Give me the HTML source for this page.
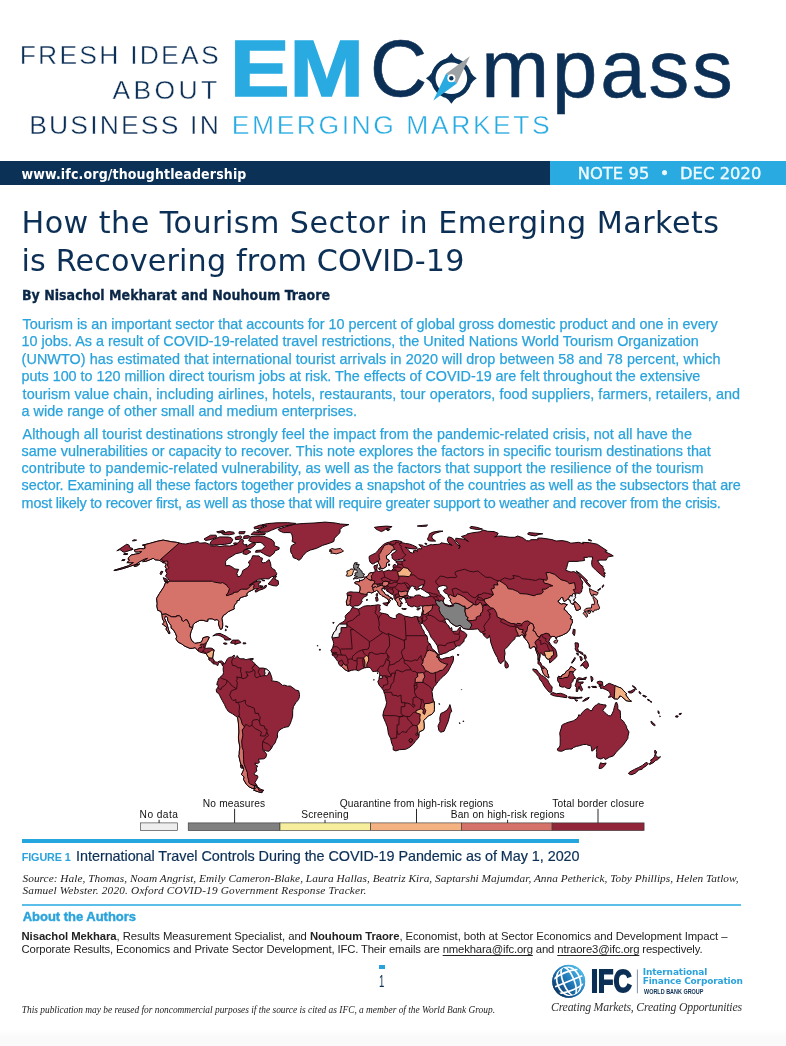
<!DOCTYPE html>
<html lang="en"><head><meta charset="utf-8"><title>EM Compass Note 95</title>
<style>
html,body{margin:0;padding:0;background:#fff;}
body{width:786px;height:1046px;position:relative;overflow:hidden;font-family:"Liberation Sans", Arial, sans-serif;}
.t{position:absolute;white-space:nowrap;margin:0;padding:0;}
.t u{text-decoration-thickness:0.8px;text-underline-offset:1.5px;}
.r{position:absolute;}
svg{position:absolute;overflow:visible;}
</style></head><body>
<div class="r" style="left:0;top:1029px;width:786px;height:17px;background:linear-gradient(#fff,#fafafa 50%,#f9f9f9);"></div>
<div class="r" style="left:0;top:161px;width:550px;height:24px;background:#0b3157;"></div>
<div class="r" style="left:550px;top:161px;width:236px;height:24px;background:#29abe2;"></div>
<div class="r" style="left:22px;top:838.5px;width:557px;height:4.5px;background:#26a6de;"></div>
<div class="r" style="left:22px;top:904.2px;width:719px;height:1.8px;background:#5bbfe9;"></div>
<div class="r" style="left:379.3px;top:964.8px;width:5.5px;height:4px;background:#2aa3dc;"></div>
<svg width="786" height="1046" viewBox="0 0 786 1046" style="left:0;top:0">
<g stroke="#14050a" stroke-width="1" stroke-linejoin="round">
<path d="M352.0,607.7 353.1,607.5 356.9,608.7 358.6,609.1 361.0,607.9 363.7,606.3 367.0,605.7 370.4,605.7 374.6,605.3 378.4,604.7 380.5,605.3 379.7,606.7 379.9,608.3 380.3,609.9 379.0,611.3 380.7,613.0 384.5,613.6 388.0,614.6 389.5,617.0 393.0,618.4 395.6,618.6 396.4,617.4 396.2,615.2 398.7,613.6 401.3,614.2 403.1,615.4 404.9,616.2 408.3,616.8 411.8,617.6 413.5,617.0 415.2,616.4 417.4,616.8 418.0,619.5 418.3,620.5 419.2,622.9 420.3,624.3 420.7,625.1 422.2,628.6 424.1,631.6 424.4,633.6 426.8,635.7 427.5,637.7 427.6,640.5 428.3,642.8 430.1,643.8 432.1,648.7 434.9,650.9 437.7,653.9 439.2,654.9 439.1,657.0 440.6,659.0 442.4,659.0 445.9,657.8 449.5,657.4 452.6,656.2 453.5,656.4 453.5,659.0 452.9,662.0 451.2,665.1 449.8,668.1 448.1,671.2 445.4,674.6 443.3,676.2 441.0,678.3 438.3,681.3 436.5,683.7 435.6,685.0 433.9,686.8 433.2,688.4 431.9,691.5 432.4,694.1 432.7,697.5 433.5,701.0 434.2,701.6 434.4,705.7 434.4,709.7 433.9,711.7 432.0,714.2 428.4,715.8 427.5,716.8 425.6,718.6 423.6,720.5 424.1,723.9 424.2,728.0 423.4,730.0 419.6,731.6 418.8,733.0 419.1,736.1 418.1,738.3 415.4,740.9 413.5,743.8 409.8,747.2 405.7,749.3 401.9,749.5 399.4,749.7 395.9,750.9 393.2,749.9 393.2,746.6 391.7,743.2 390.6,738.3 388.5,734.3 387.4,727.0 385.6,722.5 383.2,716.8 382.9,715.2 383.7,711.1 385.9,705.9 386.6,702.6 385.6,698.1 384.9,694.5 384.0,692.7 383.9,691.5 383.2,690.0 381.7,688.0 379.2,685.2 377.8,681.7 378.9,679.5 379.2,678.1 379.6,675.6 379.8,673.8 379.0,672.4 378.0,671.2 376.9,671.2 374.6,671.4 372.8,671.6 371.7,669.8 370.1,667.5 368.1,667.3 366.3,667.5 364.2,667.9 361.6,669.1 358.2,670.8 356.3,670.0 354.8,669.8 351.2,670.4 348.6,671.4 345.9,670.2 342.7,667.5 341.4,666.3 339.6,665.3 338.4,663.1 338.2,661.6 337.5,661.0 335.7,658.6 334.9,657.6 334.2,656.2 332.2,655.1 332.3,653.1 330.9,650.5 332.7,647.8 333.7,643.6 333.2,641.2 332.1,638.1 332.3,635.9 334.0,632.2 336.0,630.2 336.7,627.2 338.7,624.9 339.6,623.7 342.1,622.5 344.7,620.7 345.5,618.6 345.2,616.4 346.1,614.8 349.1,612.1 350.4,611.3 351.5,608.9Z" fill="#91253a"/>
<path d="M449.9,704.6 451.3,709.7 451.7,711.7 450.2,712.8 449.4,716.8 448.0,721.9 445.8,727.0 444.1,731.2 440.8,732.2 438.9,730.6 438.0,725.9 440.0,721.9 439.8,717.8 440.9,713.4 444.0,712.1 447.0,710.1 448.9,707.3Z" fill="#91253a"/>
<path d="M332.7,622.7 334.1,622.3 333.4,623.5Z" fill="#91253a"/>
<path d="M319.4,649.3 320.4,649.3 320.2,650.3 319.3,650.1Z" fill="#91253a"/>
<path d="M317.2,645.6 317.9,645.6 317.7,646.2Z" fill="#91253a"/>
<path d="M439.1,703.4 439.6,704.4 439.1,704.4Z" fill="#91253a"/>
<path d="M463.0,720.9 463.9,721.3 463.3,721.9Z" fill="#91253a"/>
<path d="M459.4,722.7 460.2,723.1 459.6,723.7Z" fill="#91253a"/>
<path d="M461.3,689.6 461.7,689.8 461.5,690.0Z" fill="#91253a"/>
<path d="M457.0,654.7 459.1,654.7 458.3,655.4Z" fill="#91253a"/>
<path d="M373.7,679.5 374.2,679.7 373.8,680.3Z" fill="#91253a"/>
<path d="M377.2,672.8 378.0,673.0 377.6,673.8Z" fill="#91253a"/>
<path d="M142.5,545.2 150.5,543.2 157.1,541.3 163.2,540.1 167.8,541.0 171.7,541.8 176.2,542.3 179.2,543.0 182.3,543.7 185.8,544.0 189.4,543.2 194.5,542.2 197.9,541.5 199.8,543.2 205.5,542.7 209.1,544.2 210.2,545.7 213.8,546.1 216.8,545.7 219.9,546.6 224.7,545.7 229.7,546.1 234.7,544.9 238.8,542.3 240.4,539.8 242.4,539.0 243.5,540.6 242.9,542.8 243.9,544.9 246.9,544.4 246.5,546.6 251.7,543.2 254.5,542.8 255.6,544.0 254.4,545.7 250.4,548.7 246.6,548.4 242.7,551.9 240.0,552.8 235.9,553.7 232.2,556.1 228.5,558.3 225.6,561.1 225.6,562.6 225.7,565.8 228.9,565.4 231.8,566.7 234.9,569.0 238.7,569.4 236.8,573.4 237.6,575.4 237.7,576.7 240.2,576.3 241.9,573.4 242.8,570.5 247.5,567.7 249.8,564.8 248.4,562.0 251.4,559.2 252.7,555.7 256.1,555.9 258.9,555.9 260.8,557.7 262.6,558.3 261.4,562.0 263.1,562.9 265.6,562.4 269.1,559.6 269.8,561.1 270.7,563.9 271.0,566.7 272.4,568.6 274.9,570.0 275.4,571.5 276.7,573.4 276.5,575.0 274.1,576.3 271.7,576.7 268.6,578.9 265.6,578.7 262.4,578.9 258.4,579.3 255.3,581.2 252.2,583.2 249.1,585.4 252.0,584.0 255.0,582.0 258.6,580.8 260.8,581.2 260.3,582.8 258.4,583.6 259.0,585.2 259.0,586.8 261.1,587.6 263.5,587.8 264.9,585.6 266.6,585.4 266.0,587.4 263.1,589.0 259.5,590.2 255.7,592.2 255.0,590.8 257.4,589.2 258.5,588.4 255.9,588.8 254.3,589.0 251.3,590.6 248.5,591.8 246.6,594.0 247.3,595.6 244.6,596.4 241.8,597.2 239.9,598.0 239.3,600.2 237.0,600.6 236.8,602.4 234.6,604.9 233.9,607.3 234.3,608.9 231.5,610.1 228.6,611.5 225.3,614.2 223.3,615.4 221.9,618.4 222.6,622.5 222.7,625.9 222.1,628.6 220.5,629.4 219.5,627.2 218.5,623.9 218.9,621.3 217.2,619.5 214.8,620.1 212.2,618.8 209.6,618.8 207.8,619.2 207.8,621.3 205.6,621.1 203.2,620.3 199.8,620.3 197.8,621.3 194.8,622.9 193.0,624.9 192.6,627.8 191.0,631.6 190.2,635.3 190.8,638.7 192.3,641.4 194.1,642.6 194.9,643.4 198.5,642.8 201.2,642.2 202.4,640.1 203.0,637.7 207.2,636.7 209.3,637.3 207.6,640.7 206.4,642.8 205.5,645.8 204.6,648.0 206.7,648.3 209.3,648.0 212.0,648.3 214.1,649.9 213.2,653.9 212.6,658.0 213.7,660.0 215.3,662.0 217.5,662.2 219.1,661.2 221.7,661.0 223.5,662.7 222.5,665.7 221.5,663.5 219.8,662.2 218.3,663.7 217.9,665.5 216.6,665.1 215.6,664.1 213.6,663.9 212.3,662.9 210.4,660.6 208.9,660.0 208.8,657.8 206.9,654.9 206.1,653.5 203.5,653.1 200.0,652.1 198.0,650.9 195.2,647.6 192.5,648.3 189.8,648.3 184.9,646.2 181.5,643.8 178.2,642.2 175.9,638.9 176.8,636.7 175.4,633.2 173.3,629.6 171.2,628.2 171.1,625.5 169.5,623.5 167.8,620.5 167.5,617.4 165.4,616.0 164.6,618.4 166.4,622.5 167.8,627.0 168.8,630.6 170.0,633.2 169.0,633.9 168.0,632.0 166.1,629.2 166.6,627.0 163.6,625.1 162.5,623.9 164.4,622.1 162.5,619.0 162.1,615.8 161.9,614.4 160.8,611.3 157.7,610.3 156.9,606.1 157.2,603.6 156.6,598.4 159.4,593.6 163.9,586.8 165.6,582.4 167.7,583.2 169.3,580.7 167.9,578.3 165.5,576.3 167.0,573.4 165.5,570.9 166.4,568.6 165.2,566.7 166.3,563.9 165.0,562.9 162.5,562.6 160.8,560.9 158.4,560.1 155.2,559.8 153.2,558.3 149.1,560.1 145.5,561.4 142.7,561.6 147.6,558.3 144.4,559.2 139.1,562.0 136.0,564.3 130.0,566.3 124.3,568.2 119.2,569.6 113.9,570.5 118.3,569.0 122.7,567.7 128.4,565.8 133.4,562.6 131.0,562.8 126.9,562.6 129.7,560.1 128.0,559.2 128.8,557.4 131.1,555.0 135.7,554.1 139.4,553.4 141.7,551.6 138.5,551.9 135.2,551.9 134.3,550.0 140.3,548.5 143.9,548.9 145.5,547.7 144.2,547.1 145.5,545.7Z" fill="#91253a"/>
<path d="M278.1,529.2 286.2,526.6 293.8,524.3 303.1,523.5 314.1,523.0 325.2,522.1 335.4,523.0 340.4,524.0 348.9,524.6 343.0,526.6 340.1,529.5 340.0,532.6 337.7,534.9 334.5,538.2 333.8,541.5 329.6,543.2 322.5,545.4 316.4,548.4 310.5,550.0 306.5,551.9 303.2,555.5 300.6,559.2 298.9,560.3 296.5,558.8 293.3,557.7 292.4,554.6 290.9,552.5 290.5,549.3 291.4,545.7 295.8,543.2 292.1,541.5 292.6,538.2 292.0,534.9 290.6,532.6 283.4,532.6 279.1,530.7Z" fill="#91253a"/>
<path d="M263.5,536.2 267.3,537.7 272.1,539.8 274.3,542.3 274.2,545.7 279.2,547.5 279.0,549.3 274.7,551.0 274.5,552.8 269.9,556.5 266.8,555.5 263.6,553.7 260.5,551.9 255.5,552.3 256.0,550.5 261.6,550.1 265.1,546.6 262.1,543.2 260.1,542.3 256.0,542.7 252.3,542.3 248.6,540.6 250.9,536.5 257.5,536.0Z" fill="#91253a"/>
<path d="M212.5,539.8 219.7,536.9 228.1,537.0 231.2,537.7 232.8,539.8 230.9,543.2 224.6,544.4 217.8,544.7 212.0,545.2 209.9,544.0 210.8,542.0Z" fill="#91253a"/>
<path d="M204.0,539.0 210.6,535.2 216.1,535.2 216.6,537.3 210.0,539.8 205.4,540.5Z" fill="#91253a"/>
<path d="M256.5,531.0 261.6,531.8 267.2,532.1 271.3,530.3 276.9,528.0 284.6,526.0 292.4,524.6 295.7,523.4 287.8,522.7 277.1,522.8 267.5,523.6 261.6,524.9 266.9,526.0 262.2,528.0Z" fill="#91253a"/>
<path d="M254.0,527.3 260.3,525.0 264.3,526.2 259.6,528.3 254.5,528.8Z" fill="#91253a"/>
<path d="M253.9,531.8 259.6,532.6 265.3,532.9 265.0,534.4 258.5,534.9 250.9,534.6Z" fill="#91253a"/>
<path d="M221.6,533.3 228.7,531.6 233.8,532.2 234.3,533.8 229.5,534.8 223.6,534.6Z" fill="#91253a"/>
<path d="M239.1,531.8 245.2,531.6 244.1,533.7 239.1,533.8Z" fill="#91253a"/>
<path d="M235.2,537.3 240.5,535.9 242.1,537.3 239.6,539.3 235.5,539.6Z" fill="#91253a"/>
<path d="M244.0,536.0 248.1,535.6 250.3,536.5 248.2,538.2 243.5,538.5Z" fill="#91253a"/>
<path d="M233.5,543.2 236.4,542.8 237.3,544.0 234.7,544.9Z" fill="#91253a"/>
<path d="M244.0,550.1 247.3,549.3 250.9,551.9 246.4,554.6 242.9,553.7Z" fill="#91253a"/>
<path d="M216.7,531.8 223.2,530.6 225.0,531.8 218.7,532.9Z" fill="#91253a"/>
<path d="M268.1,584.0 271.3,580.3 274.4,576.5 276.5,576.1 274.7,579.3 278.2,580.7 278.5,584.2 276.8,586.0 272.9,585.6Z" fill="#91253a"/>
<path d="M163.2,577.7 167.2,579.3 167.5,582.4 164.8,581.6Z" fill="#91253a"/>
<path d="M161.1,571.3 162.9,571.5 161.0,574.8 160.1,573.8Z" fill="#91253a"/>
<path d="M134.9,565.2 139.6,563.9 137.3,565.8 134.3,566.5Z" fill="#d5736b"/>
<path d="M124.4,553.5 127.7,553.9 126.0,554.6 123.7,554.3Z" fill="#d5736b"/>
<path d="M122.6,559.8 125.1,559.6 123.8,560.5 121.8,560.5Z" fill="#d5736b"/>
<path d="M261.4,579.5 264.9,580.7 262.5,580.8Z" fill="#91253a"/>
<path d="M259.8,585.6 263.2,586.2 261.2,587.2Z" fill="#91253a"/>
<path d="M212.8,635.9 216.0,633.9 220.0,633.4 223.3,634.9 226.6,636.5 229.0,638.3 231.2,639.3 229.7,639.9 225.0,640.0 223.8,637.7 220.5,636.1 218.0,635.1 215.3,635.3Z" fill="#91253a"/>
<path d="M230.5,643.0 232.5,640.1 235.5,640.1 238.5,640.1 241.1,642.6 238.2,643.4 235.1,644.4 233.8,643.4Z" fill="#91253a"/>
<path d="M223.6,643.0 226.0,643.0 227.2,643.8 225.3,644.4 223.5,643.6Z" fill="#91253a"/>
<path d="M243.2,642.8 246.0,643.0 245.6,643.8 243.1,643.8Z" fill="#91253a"/>
<path d="M225.3,626.1 226.7,625.9 226.4,626.8Z" fill="#91253a"/>
<path d="M225.5,629.2 226.3,629.6 225.9,631.0 225.3,630.6Z" fill="#91253a"/>
<path d="M227.1,626.3 227.9,626.8 227.4,627.8Z" fill="#91253a"/>
<path d="M251.5,658.6 253.2,658.4 253.0,659.8 251.4,659.8Z" fill="#91253a"/>
<path d="M223.5,662.7 224.5,664.1 226.1,661.2 227.1,659.2 228.4,658.0 229.6,657.4 231.7,657.0 234.2,655.1 234.8,656.4 233.7,657.6 234.2,658.2 235.2,658.0 236.7,657.2 237.2,655.6 238.0,657.0 240.0,658.8 244.1,658.8 245.9,659.8 247.7,659.2 251.3,658.6 250.1,659.8 251.5,660.4 253.3,662.0 254.6,663.5 257.2,666.1 259.5,668.1 263.4,668.1 266.1,668.9 267.9,670.2 269.6,671.6 271.4,676.2 272.2,679.3 271.3,680.7 274.9,681.3 277.6,681.7 280.3,683.3 282.5,685.4 284.8,685.2 287.5,686.2 290.2,686.0 292.9,687.8 295.7,690.0 298.7,690.8 299.5,694.5 299.5,696.5 298.5,699.6 295.9,702.6 293.4,706.7 292.7,710.7 292.6,716.4 291.4,720.5 290.1,723.9 288.5,726.7 286.2,727.0 283.8,727.6 281.0,729.0 278.2,731.4 277.4,734.1 277.6,737.1 276.4,739.1 275.2,742.8 272.9,745.6 271.2,748.7 269.1,751.2 266.8,751.1 263.8,750.1 262.8,749.3 263.0,750.5 265.4,752.3 266.6,754.3 265.9,757.4 263.8,758.8 258.5,759.2 259.4,762.4 257.5,763.6 254.9,763.0 255.5,765.0 258.0,766.4 256.2,767.4 256.8,771.0 254.1,773.4 254.5,774.8 257.6,775.8 257.9,777.2 256.3,780.3 254.9,782.3 257.1,785.8 255.6,786.0 254.0,786.8 254.5,788.7 252.1,788.3 249.1,786.8 246.4,784.3 243.5,779.4 244.2,777.0 241.5,774.6 242.9,771.4 243.8,769.4 242.5,765.4 241.0,764.8 240.1,761.4 238.8,755.7 239.2,754.9 239.3,751.3 239.9,747.2 238.8,741.1 238.4,737.1 239.0,732.0 238.7,728.2 238.4,722.9 237.7,717.6 235.6,716.0 232.5,713.8 228.4,711.5 226.2,708.3 224.5,704.6 222.3,700.6 219.7,695.5 218.7,693.5 216.7,692.3 216.2,689.8 217.9,687.2 218.6,685.4 216.8,684.8 217.3,682.3 218.2,680.3 218.4,678.7 220.4,677.5 220.6,676.6 222.9,675.0 223.5,672.4 223.1,669.1 223.4,666.7 222.5,665.7Z" fill="#91253a"/>
<path d="M257.0,786.4 258.1,787.2 260.8,789.3 264.0,790.4 262.4,791.2 261.9,792.7 258.2,791.8 253.6,790.1 254.7,789.1 255.8,788.1Z" fill="#91253a"/>
<path d="M240.6,765.0 241.8,765.4 242.5,768.2 241.0,767.8Z" fill="#d5736b"/>
<path d="M351.4,606.3 349.6,604.9 346.9,605.3 346.3,601.8 347.3,599.2 347.7,596.8 346.9,593.2 348.5,592.2 350.7,591.8 353.9,592.2 355.8,592.2 359.1,592.4 360.1,590.2 360.2,588.0 360.1,586.8 358.7,585.0 357.6,584.2 355.2,583.6 354.6,582.6 356.5,581.6 359.5,582.0 359.5,579.9 360.3,580.5 362.2,580.3 364.3,579.1 364.8,577.5 366.9,576.7 368.1,575.4 369.2,573.4 371.1,572.7 372.6,572.7 374.1,572.1 375.3,571.7 374.9,569.6 374.0,567.7 374.1,565.8 376.0,565.4 377.5,564.4 377.2,566.5 376.9,568.6 376.7,570.0 377.2,570.7 378.5,571.5 380.1,571.1 382.3,570.5 383.5,571.7 386.1,570.9 389.0,570.0 390.2,570.7 391.8,570.7 392.0,569.8 393.4,569.0 393.4,568.2 393.0,566.1 393.7,564.8 395.1,564.4 396.6,565.8 397.4,565.8 397.7,564.3 397.7,563.1 396.1,562.6 395.8,561.6 397.7,561.1 399.4,560.9 402.3,561.1 405.3,560.3 403.5,559.8 402.6,559.0 400.5,559.2 397.8,559.8 395.0,560.5 393.4,559.4 392.2,558.3 392.1,556.5 391.6,554.4 393.7,552.8 396.6,551.0 395.3,549.6 394.6,549.6 392.1,550.0 391.4,551.7 390.0,553.2 387.8,555.0 386.4,555.7 386.5,558.8 388.6,559.8 389.3,561.4 386.7,562.8 386.4,564.8 386.3,566.5 385.1,567.3 383.3,568.6 381.4,568.8 380.7,567.3 379.4,564.4 378.2,562.2 377.4,560.9 377.2,561.6 375.8,562.4 373.7,563.7 372.2,563.9 370.1,562.2 369.3,559.4 369.1,557.4 369.4,556.1 370.7,555.5 372.8,554.4 375.1,553.4 376.8,551.9 378.3,550.1 379.4,548.4 381.2,547.0 382.4,545.4 383.6,544.4 386.6,542.8 389.7,542.0 392.1,541.1 394.8,540.5 397.7,540.6 401.8,541.7 400.8,542.7 402.1,542.7 405.6,543.5 408.9,543.9 412.7,545.2 416.6,547.0 417.3,548.4 415.9,549.1 413.2,548.9 409.0,548.4 405.3,547.3 407.1,548.7 409.5,551.0 409.8,552.3 412.4,553.0 414.2,552.3 413.1,551.0 416.1,550.3 417.5,551.7 416.9,550.1 419.1,548.5 421.3,549.1 421.4,547.5 419.8,545.7 418.8,544.7 422.5,545.2 423.6,546.3 425.7,546.4 427.9,545.6 431.3,544.4 432.9,544.9 434.0,544.5 437.9,544.4 440.3,544.0 441.0,542.8 445.2,543.5 448.1,544.0 452.2,545.4 448.9,543.2 447.4,540.6 447.7,538.2 448.6,536.9 451.7,537.7 454.2,539.8 456.6,544.0 460.0,546.6 458.8,548.7 460.2,546.6 458.6,544.0 455.7,540.6 455.8,538.2 459.9,538.7 462.7,539.0 465.0,539.5 468.4,541.5 466.3,539.5 461.4,536.5 466.7,534.9 467.0,534.0 471.9,532.9 477.1,532.2 480.1,531.8 482.9,530.0 487.8,531.3 494.1,531.6 498.2,533.3 496.9,535.7 494.6,537.0 497.4,536.2 500.9,536.0 503.8,536.4 509.9,537.3 514.9,537.3 517.5,536.0 522.7,537.7 526.4,540.6 529.4,541.0 530.5,539.8 534.1,539.6 538.1,539.8 537.7,538.2 540.6,538.0 545.1,538.5 551.8,539.6 556.2,541.0 562.1,540.6 567.2,541.5 570.9,543.2 574.3,542.8 578.7,542.3 583.6,543.9 582.6,542.3 589.6,542.7 597.2,544.2 607.2,550.8 604.9,551.6 611.2,554.6 613.3,555.9 608.6,556.8 606.7,558.7 606.2,560.1 600.0,560.1 597.6,560.5 599.0,562.9 599.8,564.3 603.2,566.7 602.8,567.7 604.1,569.6 603.8,571.5 605.5,573.4 603.8,573.4 604.9,575.4 604.4,577.3 600.6,574.4 596.2,570.5 592.4,566.7 591.7,564.3 591.8,561.1 592.4,559.2 592.6,557.0 588.1,556.8 587.4,557.4 583.9,557.4 584.6,560.5 579.5,561.1 577.0,561.4 572.0,561.4 568.4,561.4 567.4,564.8 566.8,567.3 565.6,570.2 569.1,571.5 571.1,572.1 573.6,571.5 576.9,573.0 577.7,574.4 579.8,576.3 580.9,579.3 582.8,582.2 582.1,585.2 582.7,587.2 581.9,589.6 581.5,592.0 579.6,593.6 576.8,593.0 575.7,594.0 575.6,594.6 575.1,596.6 575.7,597.6 574.4,598.8 573.5,600.2 573.8,600.8 575.7,602.0 579.0,605.3 580.3,607.3 580.4,609.1 578.1,610.1 576.4,610.5 575.5,608.3 574.6,605.7 574.0,604.2 571.6,603.8 570.3,602.2 570.2,600.2 567.9,599.4 567.7,599.2 564.9,601.2 564.2,601.6 563.2,599.6 563.1,597.8 561.3,597.4 559.9,599.6 557.8,601.0 559.0,602.8 561.3,604.2 563.8,603.6 567.3,604.7 565.0,607.1 563.9,609.3 566.3,610.9 568.0,613.4 570.6,615.6 571.2,617.4 570.0,618.8 572.3,619.5 572.2,620.5 572.5,622.9 571.5,623.7 570.5,626.5 570.4,627.6 569.4,630.0 568.6,630.8 566.7,633.0 563.8,634.3 562.6,635.1 560.9,635.7 558.4,636.5 556.4,637.3 556.4,639.1 555.1,636.7 552.8,636.3 551.9,636.7 550.1,638.3 548.8,641.4 550.5,644.2 552.6,646.8 554.2,647.8 555.7,649.9 556.6,652.9 557.0,656.0 556.2,657.4 554.0,659.2 552.4,661.0 549.7,662.9 549.3,660.0 548.5,659.2 547.0,658.8 545.8,657.0 544.8,655.8 542.0,654.5 541.7,653.1 541.0,652.9 540.1,653.3 540.2,656.0 539.7,658.4 539.4,661.4 540.9,663.1 541.8,665.7 543.8,666.5 545.1,667.7 547.4,670.6 547.5,673.2 548.4,675.2 549.0,677.5 548.3,677.7 547.6,677.3 545.4,675.8 543.7,674.2 542.8,672.2 541.8,669.1 541.7,668.1 540.6,666.5 539.6,664.7 537.9,663.7 538.1,661.0 538.1,659.0 538.1,656.0 536.9,652.9 535.8,649.9 535.1,646.8 532.8,646.6 531.2,648.3 529.4,647.8 529.3,644.8 527.7,641.8 525.9,639.3 524.5,638.1 523.8,636.9 523.2,635.1 521.2,634.7 520.2,635.9 518.4,636.1 516.7,636.3 515.1,637.1 514.9,638.7 513.7,640.1 512.1,641.2 509.5,644.4 507.9,646.6 505.8,648.3 504.5,649.9 505.1,653.7 504.4,657.0 504.7,659.4 503.3,661.4 501.9,662.2 500.7,663.9 499.0,662.2 498.2,660.0 497.3,657.4 495.3,654.1 493.1,649.1 491.9,645.8 490.6,641.8 490.3,638.7 489.7,636.7 489.4,635.3 488.7,637.7 486.9,638.3 483.6,635.3 483.1,634.7 485.3,633.9 483.0,633.6 481.5,632.4 480.0,631.8 478.9,630.0 478.1,628.8 474.6,629.2 470.3,629.4 469.6,629.4 466.7,629.0 463.2,628.4 461.2,626.1 460.0,625.3 457.7,626.1 456.0,626.3 453.1,624.5 450.3,622.5 449.8,621.5 448.5,619.5 446.4,618.8 445.6,619.5 444.9,620.5 445.8,622.5 447.1,624.5 449.0,626.1 449.6,628.6 450.6,628.6 451.4,627.4 452.1,629.6 451.7,630.6 453.0,631.4 456.5,631.2 457.3,630.6 458.5,629.0 459.7,627.4 460.2,626.8 460.5,629.6 461.0,630.6 464.7,632.4 467.0,634.7 465.9,637.7 464.2,638.9 463.9,641.8 462.7,642.2 461.6,644.0 459.5,645.8 457.7,645.8 454.6,647.8 454.3,648.7 449.1,650.9 446.6,652.7 442.2,653.9 442.2,654.3 439.5,654.5 439.1,653.3 438.5,650.9 438.3,650.3 437.7,647.0 437.3,645.8 435.4,642.8 433.4,640.1 431.0,637.1 429.5,633.6 428.5,631.4 427.0,629.6 425.6,627.2 423.6,624.5 422.3,623.3 422.4,620.5 421.8,623.1 421.3,624.1 420.0,622.5 418.4,620.1 418.0,619.5 417.4,616.8 419.5,617.2 420.7,616.8 421.6,615.2 421.7,613.8 422.3,611.5 422.7,610.3 422.5,608.3 422.7,607.3 422.9,606.1 421.7,606.1 420.1,605.7 418.8,606.9 417.3,607.3 413.5,605.5 413.2,606.7 411.2,606.7 409.6,605.9 408.0,605.3 407.4,603.2 406.7,602.4 405.7,602.6 406.5,600.6 405.3,600.2 405.3,599.2 406.6,598.4 408.2,598.4 409.9,598.2 411.3,597.8 409.7,597.2 409.8,596.8 413.5,597.0 415.0,595.8 416.5,595.2 419.3,595.0 421.0,595.8 421.8,596.6 423.7,597.0 425.4,597.4 427.3,597.2 430.1,596.2 430.1,595.0 428.7,593.2 426.4,592.2 424.2,590.6 422.9,589.8 421.0,588.8 422.1,588.0 422.7,587.0 423.0,585.8 424.3,585.0 422.4,585.0 421.6,585.0 420.1,585.8 418.3,586.6 418.1,587.8 419.0,588.6 420.6,588.4 419.0,589.2 417.6,589.8 416.1,590.2 416.0,589.0 414.2,588.4 415.7,587.0 413.9,587.0 412.7,586.0 410.9,586.2 409.7,588.6 408.4,590.8 407.5,592.8 406.9,594.2 407.8,595.2 408.8,596.2 409.7,597.0 408.1,597.2 407.0,597.8 406.1,598.4 405.3,599.0 404.9,598.0 404.8,597.6 402.2,597.4 401.7,598.8 400.9,599.2 399.8,598.0 399.4,599.2 400.2,600.8 400.8,601.8 402.1,602.8 402.1,603.8 401.4,603.4 400.4,603.4 400.9,604.7 400.7,606.3 399.9,606.5 398.4,605.7 397.6,604.0 397.9,602.6 397.0,602.4 396.4,601.2 395.5,600.2 394.9,599.4 394.0,598.4 393.9,596.6 393.8,595.4 392.9,594.6 391.5,594.0 388.6,592.2 386.6,591.0 386.0,589.2 385.1,588.6 384.4,589.6 383.8,588.2 384.1,587.8 381.9,588.4 381.8,590.2 382.4,591.0 383.9,592.0 384.8,593.8 386.2,595.0 388.5,595.4 388.3,596.2 389.8,597.0 391.7,598.0 392.6,599.0 392.5,599.6 391.6,598.8 390.4,598.2 389.5,599.4 390.4,601.0 389.5,601.6 388.9,603.2 388.2,603.4 388.5,602.2 388.7,600.8 387.8,599.0 386.4,598.0 385.4,597.6 384.4,596.8 383.2,596.4 382.0,595.6 381.0,594.6 380.0,594.4 379.1,593.2 378.7,592.2 377.9,591.0 376.4,590.4 375.3,591.2 374.2,591.6 373.8,591.8 371.8,593.0 370.6,592.6 368.8,592.2 367.7,592.6 366.9,593.2 367.1,594.4 367.2,595.4 365.6,596.4 363.6,597.2 363.3,597.8 362.0,599.4 361.5,600.2 362.3,601.8 361.2,602.6 360.7,604.0 358.8,605.3 358.0,605.7 354.6,605.9 353.1,607.1ZM437.4,589.8 438.7,590.6 439.3,593.2 441.4,595.2 443.1,596.8 444.9,598.4 443.8,598.8 443.4,601.6 444.0,604.0 446.3,604.7 449.3,605.7 452.6,605.3 451.9,603.2 450.0,600.8 450.8,599.2 449.3,597.6 448.5,596.2 447.7,594.2 444.9,592.8 443.3,590.6 444.3,590.2 444.5,589.2 447.2,588.8 446.5,586.2 443.1,585.4 440.1,586.2 437.3,587.8Z" fill="#91253a"/>
<path d="M126.8,544.2 129.1,545.2 129.7,547.5 132.5,548.4 133.0,549.3 126.9,551.4 124.3,552.3 122.1,551.4 121.2,550.1 119.7,549.8 116.8,550.8Z" fill="#91253a"/>
<path d="M353.1,579.1 355.5,578.5 356.6,578.7 358.9,577.9 362.0,577.7 364.2,576.9 363.5,575.8 364.6,574.2 362.5,573.4 362.2,572.3 361.7,570.9 360.0,569.8 359.3,568.2 358.6,567.7 357.2,567.7 358.3,566.7 359.1,564.8 359.2,564.4 356.9,564.4 356.0,564.6 357.4,562.8 354.7,562.8 354.1,564.3 353.5,565.4 353.6,566.7 353.8,568.6 354.8,568.6 354.5,570.0 356.7,569.8 357.2,571.5 357.4,572.7 355.3,572.8 355.1,573.8 355.7,574.6 354.0,575.6 355.5,576.1 357.4,576.5 356.9,576.9 355.0,577.3Z" fill="#808080"/>
<path d="M346.6,576.1 349.7,576.1 352.3,575.0 352.9,572.8 353.7,570.5 353.0,569.2 350.9,569.0 349.2,570.5 346.9,571.1 347.1,572.8 347.5,574.2 346.0,575.2Z" fill="#f4b283"/>
<path d="M329.4,550.1 331.8,548.5 335.0,549.3 340.5,548.4 342.3,550.1 343.5,551.0 341.4,552.3 336.3,553.9 333.0,553.2 330.7,553.2 331.9,551.4 329.2,551.2 331.4,550.5Z" fill="#d5736b"/>
<path d="M374.4,527.3 379.8,526.6 386.4,526.1 392.1,526.6 389.2,528.0 386.0,528.8 384.1,530.3 381.5,531.6 378.3,530.3 375.7,528.8Z" fill="#91253a"/>
<path d="M386.1,529.1 390.1,529.1 388.8,530.6 387.0,530.3Z" fill="#91253a"/>
<path d="M428.3,540.6 431.1,541.1 435.6,541.1 432.0,538.2 431.9,535.7 435.2,533.3 440.0,531.8 443.0,531.2 439.4,531.0 433.1,532.1 429.5,533.8 428.7,536.5 427.5,539.0Z" fill="#91253a"/>
<path d="M417.3,526.0 422.4,525.4 427.6,525.0 426.4,526.2 420.9,526.4Z" fill="#91253a"/>
<path d="M469.8,528.0 470.9,526.4 476.7,527.3 482.5,529.1 477.3,529.5 472.9,528.8Z" fill="#91253a"/>
<path d="M527.6,534.1 528.7,532.6 535.7,533.2 542.8,533.8 539.0,534.4 535.1,535.9 530.5,535.2Z" fill="#91253a"/>
<path d="M588.1,539.8 590.0,539.8 591.7,540.8 590.2,540.8Z" fill="#91253a"/>
<path d="M134.0,539.8 136.6,540.1 134.8,540.8 132.3,540.8Z" fill="#91253a"/>
<path d="M424.9,543.2 426.8,543.5 426.6,544.5 425.0,544.0Z" fill="#91253a"/>
<path d="M576.1,570.9 579.9,573.4 582.9,576.3 587.6,580.8 586.3,581.2 590.4,585.6 589.9,587.2 587.0,584.2 583.3,579.3 579.7,575.4Z" fill="#91253a"/>
<path d="M591.8,596.2 590.1,592.8 589.4,588.4 593.0,590.6 598.1,592.6 598.0,593.2 596.6,595.2 593.0,594.2 593.2,595.8Z" fill="#d5736b"/>
<path d="M593.6,596.4 597.5,600.2 597.6,603.2 599.1,606.3 599.6,607.9 598.9,609.3 597.2,609.3 596.8,610.1 594.2,610.1 594.2,610.7 593.2,612.3 590.8,610.1 587.7,610.7 586.3,611.3 584.6,611.3 584.2,610.5 585.9,608.5 588.2,608.1 591.5,607.9 591.6,605.3 591.9,604.2 594.1,604.7 594.5,602.2 593.6,599.2 592.9,598.0Z" fill="#d5736b"/>
<path d="M584.5,611.5 587.0,613.4 587.5,616.4 586.5,617.4 584.9,615.4 583.2,613.4Z" fill="#d5736b"/>
<path d="M587.3,611.7 590.4,610.9 590.7,612.6 589.0,613.8Z" fill="#d5736b"/>
<path d="M573.3,629.2 575.1,629.6 574.9,633.6 574.3,635.7 572.7,633.6Z" fill="#91253a"/>
<path d="M553.9,641.2 556.8,639.7 557.9,640.5 556.5,643.2 554.2,642.8Z" fill="#d5736b"/>
<path d="M505.0,660.4 507.3,663.1 508.5,665.5 508.0,667.5 505.9,668.1 504.9,666.1 505.0,663.1Z" fill="#91253a"/>
<path d="M575.0,642.8 578.1,643.0 578.6,645.8 577.7,648.3 578.5,651.3 580.9,651.9 582.8,652.9 583.0,654.7 581.1,653.7 579.2,652.3 576.6,651.5 575.1,648.9 575.4,647.4 575.2,644.8Z" fill="#91253a"/>
<path d="M576.4,653.1 578.2,653.3 578.3,655.4 577.4,654.9Z" fill="#91253a"/>
<path d="M583.6,654.9 585.4,654.9 586.4,657.6 585.3,659.6 584.3,658.6 584.7,657.0Z" fill="#91253a"/>
<path d="M579.7,656.4 581.7,657.0 582.3,660.0 581.0,661.0 580.4,658.6Z" fill="#91253a"/>
<path d="M571.9,663.3 573.9,661.0 575.4,658.4 574.9,657.4 573.2,660.0 571.5,662.7Z" fill="#91253a"/>
<path d="M580.5,666.1 582.9,662.9 586.1,660.4 588.0,663.1 588.5,666.1 586.9,668.1 586.6,668.9 584.1,667.1 583.1,664.9Z" fill="#91253a"/>
<path d="M557.6,677.3 558.7,676.2 561.2,677.1 561.9,675.2 564.7,673.8 566.4,671.2 569.0,669.5 571.0,666.3 572.7,667.5 575.7,669.5 573.6,671.6 572.8,673.2 573.8,675.8 575.6,678.3 573.5,678.7 572.9,681.3 571.1,683.3 571.0,686.4 570.0,688.4 567.5,688.6 564.7,686.8 562.4,687.2 559.7,686.2 559.4,683.3 557.7,680.9Z" fill="#91253a"/>
<path d="M532.8,668.9 536.8,669.8 538.7,672.6 541.4,675.2 543.3,676.2 546.0,678.3 547.8,680.3 548.7,682.3 550.1,684.8 552.2,686.8 551.6,692.1 549.4,692.3 546.7,689.4 544.1,686.0 542.2,682.3 539.7,679.3 538.8,676.6 536.4,673.8 533.2,670.6Z" fill="#91253a"/>
<path d="M550.4,694.1 552.8,692.5 556.4,693.7 560.5,693.3 563.8,694.3 567.0,695.9 566.7,697.7 562.4,697.1 558.9,696.5 555.3,696.1 552.5,695.3Z" fill="#91253a"/>
<path d="M568.7,696.7 571.4,697.1 574.9,697.3 578.5,697.5 582.1,697.1 582.0,697.9 576.6,698.4 571.3,698.6 568.6,697.9Z" fill="#91253a"/>
<path d="M582.6,701.2 585.6,698.6 589.2,697.3 588.2,699.0 584.4,701.0Z" fill="#91253a"/>
<path d="M574.7,699.6 577.9,700.4 576.4,701.2Z" fill="#91253a"/>
<path d="M577.1,678.7 578.8,677.7 582.8,678.5 586.4,677.1 585.5,679.5 581.0,679.5 578.3,679.7 577.8,682.1 580.1,682.1 583.3,681.9 582.8,683.3 580.1,684.0 581.4,687.0 582.6,689.4 581.6,691.1 579.9,689.6 579.1,686.4 577.9,690.0 577.6,691.5 576.2,691.5 576.4,687.4 575.2,685.8 576.1,682.9Z" fill="#91253a"/>
<path d="M590.8,676.2 592.6,677.3 593.0,679.7 591.6,681.9 591.1,678.7Z" fill="#91253a"/>
<path d="M591.6,686.4 596.1,686.4 596.6,687.6 592.5,687.4Z" fill="#91253a"/>
<path d="M588.2,686.8 590.0,686.8 589.8,688.0 588.4,687.8Z" fill="#91253a"/>
<path d="M597.2,681.9 599.9,681.1 602.5,681.9 602.8,685.4 604.2,687.0 606.1,685.0 609.3,683.3 614.5,685.4 618.5,687.2 621.2,688.0 623.4,690.4 625.4,692.5 626.7,693.9 625.6,694.5 626.9,696.5 628.5,698.6 630.1,700.6 631.4,701.2 629.1,701.2 626.1,700.6 624.0,698.6 621.5,696.5 619.8,695.9 618.7,698.1 617.7,699.0 614.2,698.8 611.7,696.7 608.9,697.3 608.2,697.3 610.5,695.1 610.1,693.5 609.3,691.5 605.9,689.6 602.3,688.2 600.5,688.4 600.3,686.4 598.8,686.0 601.6,685.0 598.9,684.4 597.1,682.9Z" fill="#91253a"/>
<path d="M628.2,691.5 630.9,691.1 633.7,689.4 635.1,689.0 634.5,691.1 631.7,692.9 629.0,692.9Z" fill="#91253a"/>
<path d="M632.6,685.6 635.6,687.6 636.3,689.8 635.2,688.4 632.4,686.2Z" fill="#91253a"/>
<path d="M639.3,691.3 641.1,693.5 640.2,694.1 639.0,692.3Z" fill="#91253a"/>
<path d="M643.1,695.1 646.6,696.5 645.8,697.3 642.7,695.9Z" fill="#91253a"/>
<path d="M647.7,699.2 649.8,700.2 649.3,701.0 647.5,700.0Z" fill="#91253a"/>
<path d="M650.2,701.0 651.9,702.0 650.9,702.4Z" fill="#91253a"/>
<path d="M658.1,710.7 659.1,711.9 659.1,713.8 658.0,712.8Z" fill="#91253a"/>
<path d="M659.8,715.8 660.4,716.4 659.8,716.8Z" fill="#91253a"/>
<path d="M651.1,721.1 653.3,722.9 655.3,725.3 654.4,725.7 652.1,724.1 650.9,721.9Z" fill="#91253a"/>
<path d="M675.9,715.8 678.2,716.0 677.7,717.2 675.6,717.0Z" fill="#91253a"/>
<path d="M679.1,713.8 681.4,713.2 680.9,714.4 679.3,714.6Z" fill="#91253a"/>
<path d="M616.5,702.0 617.8,705.7 617.8,709.3 620.2,710.7 620.5,715.8 620.5,718.4 621.2,719.4 623.7,721.5 624.7,723.5 626.6,726.5 626.6,728.0 629.0,732.0 628.0,736.1 627.9,738.3 625.3,742.2 622.9,745.6 619.2,749.1 616.2,752.3 613.4,755.9 609.4,757.2 605.3,759.6 604.1,757.4 600.8,759.0 598.1,758.2 596.7,757.4 596.6,754.9 596.7,752.5 596.4,751.3 596.5,749.3 597.4,746.4 595.1,748.7 592.4,750.9 591.8,751.1 591.6,748.9 591.1,746.8 590.7,745.6 588.0,745.2 586.6,744.4 583.1,744.6 579.2,745.8 576.4,746.4 573.3,747.6 571.9,749.1 569.4,749.1 565.9,749.3 561.7,751.3 558.5,750.9 557.3,750.1 557.8,748.3 559.1,747.8 560.1,745.2 560.2,742.2 560.2,738.7 560.1,736.1 559.7,733.4 560.3,731.0 561.6,727.0 561.6,725.9 562.7,724.5 565.2,723.5 568.1,722.3 571.0,721.5 573.6,720.7 576.6,718.8 578.2,716.8 578.7,714.8 580.8,715.4 581.5,713.2 583.1,711.7 585.2,709.7 587.1,708.7 588.8,709.1 589.9,710.7 592.2,710.5 592.6,708.7 595.2,705.5 596.5,705.0 598.5,703.4 600.2,704.2 603.7,704.8 606.0,705.0 605.7,707.1 604.1,708.3 602.9,710.5 604.8,712.6 606.7,714.2 608.5,715.6 610.7,716.0 612.1,713.8 613.5,710.7 614.2,707.7 614.8,705.7 615.5,703.0Z" fill="#91253a"/>
<path d="M600.5,762.8 603.0,763.6 606.2,763.0 604.8,765.4 602.5,767.8 600.2,768.6 599.0,768.4 599.4,765.8Z" fill="#91253a"/>
<path d="M655.0,750.1 656.6,751.9 655.6,754.9 656.5,756.4 658.0,757.4 660.6,756.8 657.4,759.8 655.6,760.4 653.8,762.4 649.6,764.6 649.3,764.0 651.2,761.8 650.6,760.0 652.9,758.6 654.5,756.4 655.2,753.9 654.5,751.7Z" fill="#91253a"/>
<path d="M647.0,762.4 648.4,763.8 646.8,765.4 642.5,768.4 642.2,769.2 638.8,770.0 635.3,773.2 632.1,774.6 630.2,774.6 628.3,773.4 630.0,771.8 634.4,769.4 638.7,767.4 642.4,765.4 645.4,763.0Z" fill="#91253a"/>
<path d="M382.9,603.2 388.0,602.6 387.5,605.3 387.2,605.9 383.8,604.4Z" fill="#91253a"/>
<path d="M375.5,597.4 377.3,596.8 378.0,599.2 377.8,601.0 376.1,601.2 375.9,599.2Z" fill="#91253a"/>
<path d="M376.0,594.4 377.3,593.2 377.6,595.2 377.1,596.4 376.3,595.8Z" fill="#91253a"/>
<path d="M401.9,608.3 403.4,608.5 406.5,608.7 406.0,609.3 403.8,609.5 401.9,608.9Z" fill="#d5736b"/>
<path d="M416.7,609.3 417.8,608.5 420.4,607.9 419.4,609.3 417.9,610.1Z" fill="#91253a"/>
<path d="M366.0,600.0 367.5,599.4 367.3,600.4Z" fill="#91253a"/>
<path d="M378.4,568.2 380.6,567.5 380.8,568.6 380.0,569.8 378.8,569.2Z" fill="#91253a"/>
<path d="M388.6,564.1 389.8,564.3 389.5,565.4 388.8,565.6Z" fill="#91253a"/>
<path d="M597.6,590.2 600.2,588.2 601.0,588.6 598.3,590.8Z" fill="#91253a"/>
<path d="M601.9,587.2 603.3,584.8 603.9,585.2 602.5,587.6Z" fill="#91253a"/>
<path d="M167.4,581.2 167.5,582.4 164.8,581.6 164.7,581.2ZM212.6,581.2 213.3,581.8 217.0,582.6 220.7,583.2 222.7,582.6 227.1,585.4 227.3,586.2 228.3,587.6 229.5,588.6 227.9,593.2 226.1,594.8 226.7,595.8 233.3,593.6 233.5,592.4 237.9,592.0 238.7,590.8 241.3,589.2 247.0,589.2 248.4,588.4 249.7,586.8 252.3,584.4 253.7,584.6 254.3,585.0 253.4,587.8 254.3,589.0 251.3,590.6 248.5,591.8 246.6,594.0 247.3,595.6 244.6,596.4 241.8,597.2 239.9,598.0 239.3,600.2 237.0,600.6 236.8,602.4 234.6,604.9 233.9,607.3 234.3,608.9 231.5,610.1 228.6,611.5 225.3,614.2 223.3,615.4 221.9,618.4 222.6,622.5 222.7,625.9 222.1,628.6 220.5,629.4 219.5,627.2 218.5,623.9 218.9,621.3 217.2,619.5 214.8,620.1 212.2,618.8 209.6,618.8 207.8,619.2 207.8,621.3 205.6,621.1 203.2,620.3 199.8,620.3 197.8,621.3 194.8,622.9 193.0,624.9 192.6,627.7 189.5,626.8 189.3,624.5 188.1,622.1 187.1,619.9 185.2,619.9 183.6,621.5 181.7,620.3 181.6,618.2 179.6,615.8 176.6,615.8 176.3,616.8 171.5,616.8 166.1,614.0 161.9,614.4 160.8,611.3 157.7,610.3 156.9,606.1 157.2,603.6 156.6,598.4 159.4,593.6 163.9,586.8 165.6,582.4 167.7,583.2 168.9,581.2Z" fill="#d5736b"/>
<path d="M160.4,559.6 162.7,560.1 163.0,562.0 165.4,561.1 167.5,561.1 167.9,562.9 167.5,565.8 168.8,567.7 167.1,569.6 165.9,570.2 165.8,570.2 166.4,568.6 165.2,566.7 166.3,563.9 165.0,562.9 162.5,562.6 160.8,560.9 158.4,560.1 155.2,559.8 153.2,558.3 149.1,560.1 145.5,561.4 142.7,561.6 147.6,558.3 144.4,559.2 139.1,562.0 136.0,564.3 130.0,566.3 124.3,568.2 119.2,569.6 113.9,570.5 118.3,569.0 122.7,567.7 128.4,565.8 133.4,562.6 131.0,562.8 126.9,562.6 129.7,560.1 128.0,559.2 128.8,557.4 131.1,555.0 135.7,554.1 139.4,553.4 141.7,551.6 138.5,551.9 135.2,551.9 134.3,550.0 140.3,548.5 143.9,548.9 145.5,547.7 144.2,547.1 145.5,545.7 142.5,545.2 150.5,543.2 157.1,541.3 163.2,540.1 167.8,541.0 171.7,541.8 176.2,542.3 179.2,543.0ZM132.6,549.3 132.9,549.0 133.0,549.3 131.3,549.8ZM134.9,565.2 139.6,563.9 137.3,565.8 134.3,566.5ZM122.6,559.8 125.1,559.6 123.8,560.5 121.8,560.5ZM124.4,553.5 127.7,553.9 126.0,554.6 123.7,554.3Z" fill="#d5736b"/>
<path d="M166.1,614.0 171.5,616.8 176.3,616.8 176.6,615.8 179.6,615.8 181.6,618.2 181.7,620.3 183.6,621.5 185.2,619.9 187.1,619.9 188.1,622.1 189.3,624.5 189.5,626.8 192.6,627.7 192.6,627.8 191.0,631.6 190.2,635.3 190.8,638.7 192.3,641.4 194.1,642.6 194.9,643.4 198.5,642.8 201.2,642.2 202.4,640.1 203.0,637.7 207.2,636.7 209.3,637.3 207.6,640.7 206.5,642.7 205.9,642.8 204.4,643.8 204.1,644.2 200.9,644.2 200.1,645.4 201.7,647.0 201.4,647.6 199.3,647.6 198.2,649.3 198.0,650.9 195.2,647.6 192.5,648.3 189.8,648.3 184.9,646.2 181.5,643.8 178.2,642.2 175.9,638.9 176.8,636.7 175.4,633.2 173.3,629.6 171.2,628.2 171.1,625.5 169.5,623.5 167.8,620.5 167.5,617.4 165.4,616.0 164.6,618.4 166.4,622.5 167.8,627.0 168.8,630.6 170.0,633.2 169.0,633.9 168.0,632.0 166.1,629.2 166.6,627.0 163.6,625.1 162.5,623.9 164.4,622.1 162.5,619.0 162.1,615.8 161.9,614.4Z" fill="#d5736b"/>
<path d="M238.9,715.8 241.1,719.9 242.1,723.9 244.5,727.0 242.2,730.0 242.9,735.1 241.7,741.1 242.1,747.2 243.3,750.3 243.4,754.3 243.6,759.4 243.8,763.4 245.6,768.4 247.3,772.4 247.5,776.4 248.6,780.3 248.8,782.7 250.6,784.3 253.0,785.2 257.1,785.8 255.6,786.0 254.0,786.8 254.5,788.7 252.1,788.3 249.1,786.8 246.4,784.3 243.5,779.4 244.2,777.0 241.5,774.6 242.9,771.4 243.8,769.4 242.5,765.4 241.0,764.8 240.1,761.4 238.8,755.7 239.2,754.9 239.3,751.3 239.9,747.2 238.8,741.1 238.4,737.1 239.0,732.0 238.7,728.2 238.4,722.9 237.7,717.6ZM257.2,786.6 259.1,790.8 262.4,791.2 261.9,792.7 258.2,791.8 253.6,790.1 254.7,789.1 255.8,788.1 257.0,786.4 257.2,786.6ZM241.0,767.8 240.6,765.0 241.8,765.4 242.5,768.2Z" fill="#d5736b"/>
<path d="M378.9,560.5 379.8,559.2 379.2,557.4 379.0,554.6 380.6,552.5 381.7,550.1 382.8,548.4 383.8,546.1 385.6,544.9 388.7,543.9 393.1,545.9 393.8,547.8 394.6,549.6 392.1,550.0 391.4,551.7 390.0,553.2 387.8,555.0 386.4,555.7 386.5,558.8 388.6,559.8 389.3,561.4 386.7,562.8 386.4,564.8 386.3,566.5 385.1,567.3 383.3,568.6 381.4,568.8 380.7,567.3 379.4,564.4 378.2,562.2 378.1,562.1ZM388.8,565.6 388.8,565.6 388.6,564.1 389.4,564.2Z" fill="#d5736b"/>
<path d="M364.4,594.2 361.2,593.6 359.1,592.4 360.1,590.2 360.2,588.0 360.1,586.8 358.7,585.0 357.6,584.2 355.2,583.6 354.6,582.6 356.5,581.6 359.5,582.0 359.5,579.9 359.5,579.9 360.3,580.5 362.2,580.3 364.3,579.1 364.8,577.5 365.9,577.1 368.5,579.3 371.1,580.3 372.2,580.3 374.9,581.2 374.0,584.0 373.1,584.2 371.9,586.6 373.2,587.4 372.9,588.2 373.3,590.2 374.2,591.6 373.8,591.8 371.8,593.0 370.6,592.6 368.8,592.2 367.7,592.6 366.9,593.2 367.1,594.4Z" fill="#d5736b"/>
<path d="M372.9,572.8 372.7,574.4 371.2,575.8 371.8,578.7 371.1,580.3 368.5,579.3 365.9,577.1 366.9,576.7 368.1,575.4 369.2,573.4 371.1,572.7 372.6,572.7 372.8,572.6Z" fill="#d5736b"/>
<path d="M351.2,595.4 350.6,598.8 349.9,601.2 350.3,602.8 349.6,604.9 346.9,605.3 346.3,601.8 347.3,599.2 347.7,596.8 347.4,595.4 347.6,595.4Z" fill="#d5736b"/>
<path d="M373.3,590.2 372.9,588.2 373.2,587.4 375.6,586.6 378.6,586.0 381.4,585.2 383.8,586.2 384.1,587.8 381.9,588.4 381.8,590.2 382.4,591.0 383.9,592.0 384.8,593.8 386.2,595.0 388.5,595.4 388.3,596.2 389.8,597.0 391.7,598.0 392.6,599.0 392.5,599.6 391.6,598.8 390.4,598.2 389.5,599.4 390.4,601.0 389.5,601.6 388.9,603.2 388.2,603.4 388.5,602.2 388.7,600.8 387.8,599.0 386.4,598.0 385.4,597.6 384.4,596.8 383.2,596.4 382.0,595.6 381.0,594.6 380.0,594.4 379.1,593.2 378.7,592.2 377.9,591.0 376.4,590.4 375.3,591.2 374.2,591.6ZM387.8,603.6 387.7,602.7 388.0,602.6 387.8,603.7Z" fill="#d5736b"/>
<path d="M398.2,574.2 397.5,571.7 400.4,570.9 401.6,569.0 403.6,567.5 408.1,568.4 409.1,570.5 411.7,572.7 410.3,575.2 409.1,576.7 403.6,576.1 398.3,576.1Z" fill="#f4b283"/>
<path d="M443.9,617.4 440.5,613.4 439.0,609.3 439.5,607.3 437.1,604.9 435.7,602.4 435.7,599.8 439.4,601.4 441.6,600.2 443.5,602.4 443.6,602.6 444.0,604.0 444.5,604.2 445.1,605.3 449.5,606.7 453.6,605.9 452.5,604.7 455.5,603.0 459.0,603.8 462.9,606.1 464.9,606.1 465.0,608.1 465.0,611.3 466.3,616.4 468.2,617.4 467.0,619.9 470.8,623.1 471.8,625.1 469.6,629.2 469.6,629.4 466.7,629.0 463.2,628.4 461.2,626.1 460.0,625.3 457.7,626.1 456.0,626.3 453.1,624.5 450.3,622.5 449.8,621.5 448.5,619.5 446.4,618.8 445.6,619.5Z" fill="#808080"/>
<path d="M450.3,594.6 454.0,596.6 455.7,596.6 457.4,593.8 460.1,594.8 463.8,596.8 469.2,601.2 473.1,603.2 473.4,604.4 470.6,606.7 467.6,608.7 465.3,608.1 464.9,606.1 462.9,606.1 459.0,603.8 455.5,603.0 452.5,604.7 452.3,604.4 451.9,603.2 450.4,601.3 450.1,600.7 450.8,599.2 449.3,597.6 448.5,596.2 448.3,595.7Z" fill="#d5736b"/>
<path d="M467.6,608.7 470.6,606.7 473.4,604.4 476.1,605.1 478.4,604.2 479.6,602.4 481.4,603.2 482.3,605.9 485.1,604.4 487.6,604.9 484.6,605.5 482.4,606.7 482.8,608.3 482.6,611.1 481.7,612.6 480.5,613.4 480.7,615.6 478.5,616.0 476.1,617.4 476.3,619.7 472.5,620.5 469.9,620.7 467.0,619.9 468.2,617.4 466.3,616.4 465.0,611.3 465.3,608.1Z" fill="#d5736b"/>
<path d="M549.5,635.9 549.2,634.1 546.1,633.2 542.8,634.5 541.6,634.7 540.8,634.9 540.0,637.1 537.9,636.7 536.2,634.1 535.0,631.6 532.8,630.6 534.1,628.0 533.0,624.3 530.6,622.9 527.8,620.9 524.5,621.5 521.6,624.1 520.7,623.7 517.1,623.3 516.5,624.5 514.6,623.7 511.1,623.5 507.3,621.7 503.2,619.0 501.5,619.0 497.2,616.8 496.7,613.4 495.1,610.3 493.4,608.3 490.2,607.7 488.9,605.9 487.6,604.9 485.0,602.2 484.2,600.2 484.4,599.0 487.5,598.4 490.4,597.2 493.3,594.8 493.0,593.2 491.0,589.2 494.3,588.2 493.8,584.8 498.0,585.0 497.1,582.4 498.4,581.0 499.6,580.8 503.3,583.2 506.4,585.4 508.2,588.8 512.4,589.2 515.5,590.6 517.5,591.4 520.1,593.6 526.8,594.0 534.2,595.8 536.8,594.4 541.4,593.8 543.3,591.8 542.2,589.2 545.4,589.2 547.9,587.8 549.5,586.4 552.8,585.8 547.9,583.8 544.4,583.2 542.9,579.5 546.2,580.3 547.4,579.3 547.0,576.3 545.9,572.8 549.4,572.5 554.7,574.4 560.9,579.7 567.2,581.4 569.3,583.8 574.5,582.6 575.7,588.8 573.3,589.6 575.3,593.2 575.6,594.6 575.3,594.4 573.4,593.4 572.0,595.2 572.4,596.2 570.0,595.6 569.4,597.2 567.7,599.2 564.9,601.2 564.2,601.6 563.2,599.6 563.1,597.8 561.3,597.4 559.9,599.6 557.8,601.0 559.0,602.8 561.3,604.2 563.8,603.6 567.3,604.7 565.0,607.1 563.9,609.3 566.3,610.9 568.0,613.4 570.6,615.6 571.2,617.4 570.0,618.8 572.3,619.5 572.2,620.5 572.5,622.9 571.5,623.7 570.5,626.5 570.4,627.6 569.4,630.0 568.6,630.8 566.7,633.0 563.8,634.3 562.6,635.1 560.9,635.7 558.4,636.5 556.4,637.3 556.4,639.1 555.1,636.7 552.8,636.3 551.9,636.7Z" fill="#d5736b"/>
<path d="M569.4,597.2 570.0,595.6 572.4,596.2 572.0,595.2 573.4,593.4 575.3,594.4 575.6,594.6 575.6,594.6 575.1,596.6 575.7,597.6 574.4,598.8 573.5,600.2 573.8,600.8 575.7,602.0 575.8,602.1 573.9,602.6 573.9,603.6 572.2,603.9 571.6,603.8 570.3,602.2 570.2,600.2 567.9,599.4 567.7,599.2Z" fill="#eeeeee"/>
<path d="M573.9,602.6 575.8,602.1 579.0,605.3 580.3,607.3 580.4,609.1 578.1,610.1 576.4,610.5 575.5,608.3 574.6,605.7 574.0,604.2 572.6,604.0 573.9,603.6Z" fill="#d5736b"/>
<path d="M533.0,624.3 534.1,628.0 532.8,630.6 535.0,631.6 536.2,634.1 537.9,636.7 540.0,637.1 538.4,639.1 536.6,640.1 534.9,642.6 536.9,646.8 536.5,649.5 538.8,653.9 539.7,656.4 538.5,659.4 538.2,660.0 538.1,660.0 538.1,659.0 538.1,656.0 536.9,652.9 535.8,649.9 535.1,646.8 532.8,646.6 531.2,648.3 529.4,647.8 529.3,644.8 527.7,641.8 525.9,639.3 524.5,638.1 524.9,636.9 526.0,634.7 525.3,631.6 526.6,631.8 527.2,629.6 527.7,626.3 529.1,624.9 530.6,622.9Z" fill="#d5736b"/>
<path d="M517.7,633.2 516.0,630.0 515.9,626.8 518.5,627.6 518.8,629.0 523.4,629.8 521.8,632.4 523.9,633.6 524.9,636.9 524.5,638.1 523.8,636.9 523.2,635.1 521.2,634.7 520.2,635.9 518.4,636.1Z" fill="#d5736b"/>
<path d="M545.2,651.3 549.1,651.3 550.5,651.1 553.2,650.7 553.7,655.1 551.1,656.6 551.3,658.0 548.5,659.2 547.0,658.8 545.8,657.0 545.5,656.5 545.5,655.6 544.3,652.7Z" fill="#f4b283"/>
<path d="M543.2,668.7 545.0,667.6 545.1,667.7 547.4,670.6 547.5,673.2 548.4,675.2 549.0,677.5 548.3,677.7 547.6,677.3 545.4,675.8 543.7,674.2 542.8,672.2 541.8,669.1 541.7,668.1 541.0,667.1 541.1,667.1Z" fill="#d5736b"/>
<path d="M573.1,671.8 569.5,671.6 569.2,674.2 567.9,677.3 564.8,677.5 562.7,678.5 559.5,678.5 558.6,676.3 558.7,676.2 561.2,677.1 561.9,675.2 564.7,673.8 566.4,671.2 569.0,669.5 571.0,666.3 572.7,667.5 575.7,669.5 573.6,671.6 573.5,671.8Z" fill="#d5736b"/>
<path d="M615.0,685.6 618.5,687.2 621.2,688.0 623.4,690.4 625.4,692.5 626.7,693.9 625.6,694.5 626.9,696.5 628.5,698.6 630.1,700.6 631.4,701.2 629.1,701.2 626.1,700.6 624.0,698.6 621.5,696.5 619.8,695.9 618.7,698.1 617.7,699.0 614.2,698.8Z" fill="#f4b283"/>
<path d="M429.4,650.1 431.4,650.7 434.6,651.7 437.6,654.9 436.6,657.0 438.6,658.0 438.3,658.8 439.8,661.2 442.5,662.7 446.1,664.1 447.9,664.1 442.7,670.2 440.0,670.6 437.3,672.0 435.5,672.4 432.9,673.4 430.2,673.0 428.0,671.4 426.4,671.0 424.7,669.3 422.9,665.7 421.1,664.5 422.7,663.3 423.0,661.0 423.3,658.8 424.5,657.6 425.6,654.7 426.3,652.9 426.9,651.3Z" fill="#d5736b"/>
<path d="M415.3,678.7 418.2,676.0 417.3,675.6 417.6,672.8 419.4,673.0 422.1,672.6 423.7,672.8 424.8,676.9 423.0,679.9 423.0,682.3 417.3,682.3 415.1,683.1Z" fill="#d5736b"/>
<path d="M417.8,734.7 417.6,732.8 418.0,730.0 417.0,725.7 419.0,723.5 420.2,720.5 419.8,717.8 420.3,714.2 416.0,712.8 416.0,710.7 421.1,708.7 423.4,709.9 422.9,713.2 424.6,714.4 425.8,710.5 424.1,707.7 424.5,703.8 429.8,703.2 434.2,701.6 434.4,705.7 434.4,709.7 433.9,711.7 432.0,714.2 428.4,715.8 427.5,716.8 425.6,718.6 423.6,720.5 424.1,723.9 424.2,728.0 423.4,730.0 419.6,731.6 418.8,733.0 419.0,734.8Z" fill="#f4b283"/>
<path d="M346.9,624.1 346.8,627.6 341.1,627.6 341.0,632.6 339.2,633.6 339.1,637.1 332.1,638.0 332.3,635.9 334.0,632.2 336.0,630.2 336.7,627.2 338.7,624.9 339.3,624.1Z" fill="#eeeeee"/>
<path d="M364.9,662.0 363.6,658.0 366.1,655.4 368.4,656.6 368.8,660.0 366.8,664.3 366.8,667.5 366.3,667.5 364.9,667.8Z" fill="#f4b283"/>
<path d="M343.6,663.3 345.2,665.3 346.8,664.9 348.6,671.4 345.9,670.2 342.7,667.5 341.4,666.3Z" fill="#d5736b"/>
<path d="M382.3,675.8 382.3,678.3 379.2,678.3 379.2,678.1 379.6,675.7Z" fill="#eeeeee"/>
<path d="M206.5,653.9 207.7,652.3 209.5,652.1 211.2,650.3 214.1,649.9 213.2,653.9 212.6,658.0 212.7,658.2 212.5,658.2 210.8,658.0 209.0,657.8 208.8,657.7 206.9,654.9 206.4,654.0Z" fill="#f4b283"/>
<path d="M265.1,673.2 264.5,671.2 265.2,668.7 265.5,668.8 266.1,668.9 267.9,670.2 269.6,671.6 269.7,671.7 269.3,672.0 267.8,675.0 266.9,675.8 264.2,675.6Z" fill="#eeeeee"/>
<path d="M422.7,607.3 423.6,605.7 425.8,605.7 429.2,605.7 432.9,604.9 431.8,609.7 428.1,612.6 424.9,614.8 423.0,614.0 423.1,612.6 423.8,610.9 423.0,610.1 422.7,610.1 422.5,608.3Z" fill="#d5736b"/>
<path d="M400.9,591.8 405.7,591.0 408.0,591.7 407.5,592.8 406.9,594.2 407.8,595.2 405.1,595.8 403.1,596.6 399.8,596.6 398.5,593.6 398.7,590.8Z" fill="#d5736b"/>
<path d="M373.1,584.2 374.0,584.0 375.4,583.8 377.2,584.2 378.6,586.0 376.4,587.4 375.6,586.6 373.2,587.4 371.9,586.6Z" fill="#d5736b"/>
<path d="M410.4,738.5 412.6,739.5 411.9,741.8 410.0,742.4 408.8,740.3Z" fill="#91253a"/>
<path d="M378.6,584.2 381.3,584.0 382.6,584.2 382.5,582.6 383.7,581.6 385.5,581.2 388.6,581.8 389.0,583.2 388.2,584.4 387.6,585.6 385.3,586.4 383.8,586.2 381.4,585.2 378.6,586.0 377.2,585.0 377.2,584.2Z" fill="#d5736b"/>
<path d="M396.6,597.6 399.8,596.6 403.1,596.6 405.1,595.8 404.8,597.6 402.2,597.4 401.7,598.8 400.9,599.2 399.8,598.0 399.4,599.2 400.2,600.8 400.8,601.8 402.1,602.8 402.1,603.8 401.4,603.4 400.4,603.4 400.9,604.7 400.7,606.3 399.9,606.5 398.4,605.7 397.6,604.0 397.9,602.6 397.0,602.4 396.4,601.2 395.5,600.2 395.2,599.7ZM405.8,598.6 405.3,598.9 404.9,598.0 404.8,597.6Z" fill="#d5736b"/>
</g>
<path d="M233.7,657.6 232.5,659.0 231.6,661.8 232.4,665.3 236.5,666.1 237.6,667.9 241.1,667.7 240.4,671.2 241.3,673.4 241.7,677.9M241.7,677.9 236.7,676.9 237.4,679.1 236.3,680.3 237.4,682.5 236.6,688.8M236.6,688.8 235.2,688.0 231.2,685.2 229.7,682.9 227.0,680.5M227.0,680.5 225.0,679.5 222.9,678.9 220.4,677.5M227.0,680.5 226.5,683.3 224.6,685.6 221.7,687.4 221.1,689.4 219.3,689.2 217.9,687.2M236.6,688.8 231.3,690.8 229.7,695.1 231.6,699.0 233.0,700.6 236.0,699.6 235.9,702.6 237.7,702.4M237.7,702.4 239.5,705.7 239.3,709.7 238.8,711.9 239.6,713.8 238.9,715.8M237.7,702.4 240.6,702.0 245.3,700.2 245.5,703.6 247.4,705.7 251.6,707.1 254.3,708.3 255.2,713.4 258.6,713.4 258.7,715.4 260.3,716.8 259.9,718.8 259.4,721.3M259.4,721.3 257.7,719.4 253.1,720.1 252.2,721.9 252.0,725.3M252.0,725.3 249.2,726.5 247.5,725.1 245.6,724.5 244.5,727.0M259.4,721.3 260.3,725.1 264.4,726.1 265.0,729.0 267.0,729.2 266.8,732.2M252.0,725.3 255.2,728.6 259.4,730.6 261.5,732.2 260.2,735.7 263.9,736.1 265.3,735.9 266.8,732.2M266.8,732.2 268.5,735.5 265.4,737.9 262.8,741.6M262.8,741.6 262.4,745.2 262.8,749.3M262.8,741.6 265.8,743.0 268.5,744.2 270.8,746.6 271.2,748.7M241.7,677.9 243.0,678.7 244.4,678.3 246.8,677.3 247.2,675.2 248.2,675.8 245.8,671.8 249.4,672.2 252.6,671.2 253.2,669.8M253.2,669.8 252.0,668.3 252.6,666.7 254.0,666.1 254.9,663.7M253.2,669.8 254.4,670.2 255.1,672.2 254.7,675.6 256.1,677.7 257.9,677.3 259.7,676.4 260.6,676.4M260.6,676.4 259.2,673.6 258.0,672.2 259.3,669.1 259.5,668.1M260.6,676.4 261.7,676.2 264.2,675.6M204.1,644.2 203.7,648.0 204.2,648.0M205.2,648.5 203.4,650.1 203.0,651.1 201.6,652.3M203.0,651.1 204.5,652.1 205.7,652.9 205.8,653.5M213.6,663.9 213.8,661.0 214.3,660.8M235.5,640.1 235.1,642.4 235.1,644.4M358.3,609.1 359.1,612.3 359.9,614.6 356.9,616.0 355.6,617.6 352.5,620.1 346.9,622.1 346.9,624.1M346.9,624.1 346.9,624.9 353.6,629.6M353.6,629.6 350.6,629.6 352.2,648.9 345.5,648.9 343.0,649.1 341.6,648.7 340.3,650.3M340.3,650.3 338.4,647.6 336.3,646.6 333.1,646.8 332.7,647.8M340.3,650.3 340.6,652.9 341.7,655.1M341.7,655.1 337.6,654.7 334.4,654.7 332.2,655.1M332.1,652.7 334.4,652.3 337.1,652.9 335.3,653.5 332.2,653.7M337.6,654.7 337.6,656.6 335.2,658.0M341.7,655.1 345.4,655.1 347.2,658.0 347.7,659.6M338.3,662.0 341.8,660.0 343.6,663.3M346.8,664.9 348.2,663.3 347.7,659.6M343.6,663.3 341.4,666.3M347.7,659.6 350.9,658.8 352.2,659.2 353.6,660.6 357.0,660.8 357.2,664.1 356.3,667.1 356.8,670.0M352.2,659.2 352.5,656.4 354.2,654.9 355.8,653.3 358.4,651.5 362.4,649.9M362.4,649.9 368.2,649.1 369.4,646.2 369.4,641.6M353.6,629.6 364.1,637.5 367.6,640.1 369.4,641.6M369.4,641.6 372.1,640.5 375.2,638.1 383.0,632.6M383.0,632.6 379.5,630.6 378.5,626.8 379.4,625.5 379.0,621.9 378.4,619.0M378.4,619.0 377.4,615.4 374.9,612.8 376.1,609.9 376.1,606.3 376.4,605.5M378.4,619.0 379.7,616.0 381.6,614.2 381.6,613.1M383.0,632.6 386.9,634.5 388.3,633.6 404.4,640.7 404.3,639.7 406.1,639.7 405.9,635.7M405.9,635.7 405.2,620.9 404.5,619.0 405.2,616.3M405.9,635.7 426.8,635.7M388.3,633.6 389.3,638.1 389.6,643.8 389.5,646.0 386.2,650.9 386.0,652.7 384.3,653.7 380.7,653.3 378.0,654.3 374.5,653.9 371.8,652.3 369.1,652.9 368.4,656.6M362.4,649.9 363.8,653.1 366.1,655.4M357.0,660.8 357.0,658.0 361.1,658.0 363.6,658.0 362.7,660.0 362.9,663.1 363.3,666.1 364.2,667.9M377.4,671.0 378.5,668.1 380.8,666.1 383.1,666.1 384.9,663.1 386.3,659.0 388.1,657.0 387.3,654.9 386.9,653.7 386.0,652.7M387.3,654.9 388.8,656.0 389.0,658.4 387.0,660.0 389.7,661.0 389.2,665.1M404.4,640.7 404.6,648.5 402.7,649.5 401.3,652.3 402.1,654.5 402.9,657.4M389.2,665.1 391.5,664.7 395.1,663.7 396.2,662.0 398.7,661.4 400.9,658.8 402.9,657.4 404.4,660.2 404.0,662.7 406.7,664.5 409.5,667.1 411.1,669.8M404.4,660.2 406.3,660.4 409.4,661.0 412.1,661.2 414.9,659.8 417.4,660.4 419.8,656.6 421.2,655.6 421.1,658.4 423.0,661.0M426.9,651.3 427.4,646.2 430.1,643.8M437.6,654.9 438.7,654.6M436.6,657.0 438.6,658.0 439.2,657.1M435.5,672.4 435.6,681.9 436.5,683.7M426.4,671.0 423.7,672.8M423.0,682.3 429.5,686.4 432.3,689.8M417.3,682.3 416.7,685.2 417.3,687.0 415.8,689.2 414.7,689.2M411.1,669.8 412.9,671.6 414.9,671.2 417.3,673.2 417.6,672.8M415.1,683.1 414.0,685.8 414.7,689.2 414.5,692.5 416.6,696.9M414.0,685.8 416.7,685.2M416.6,696.9 420.8,699.4 422.8,699.6 423.6,702.6 424.5,703.8M420.8,699.4 421.5,702.2 420.2,707.9 421.1,708.7M416.6,696.9 413.7,697.5 412.8,699.2 413.1,701.6 412.7,704.6 415.1,705.0 413.6,707.5 410.5,704.2 407.2,703.0 405.5,703.4 404.9,702.4M404.9,702.4 404.8,706.7 401.2,706.7 401.0,713.2 403.4,716.0 406.8,716.4 409.8,716.6 413.3,712.6 416.0,711.9M406.8,716.4 408.2,719.9 410.8,721.9 411.9,724.1 413.6,725.3 417.0,725.7M413.6,725.3 411.1,726.5 409.1,728.4 407.3,730.4 406.5,732.4 402.1,731.6 400.3,733.6 398.2,734.7 397.0,730.6M397.0,730.6 397.1,724.9 398.9,724.9 399.1,717.4 403.4,716.0M397.0,730.6 396.6,737.9 392.3,738.5 390.6,738.3M382.9,715.2 386.8,715.6 394.8,715.6 399.2,716.6 403.4,716.0M384.0,692.7 385.7,692.3 391.6,692.3 392.4,695.1 396.9,695.5 397.4,696.5 401.0,695.1 401.2,699.6 401.8,703.0 404.9,702.4M383.9,691.5 385.3,689.6 387.8,690.2 390.3,688.4 391.1,684.8 393.8,681.3 394.1,677.9 395.4,673.2M381.9,688.2 383.3,687.2 383.5,685.2 385.3,685.2 387.8,684.2 387.9,681.3 387.0,679.7 387.8,677.7 385.9,677.7 385.7,675.8M382.3,675.8 385.7,675.8 390.7,676.9 391.1,675.8 389.3,672.2 388.0,670.2 388.3,667.7 389.2,665.1M391.1,675.8 391.8,673.2 395.4,673.2 395.2,671.4 397.0,670.0 402.2,672.0 405.9,670.0 411.1,669.8M417.6,732.8 416.5,733.0 415.6,734.7 416.5,735.7 417.8,734.7M374.9,569.8 376.7,569.9M383.5,571.7 383.9,573.0 384.3,574.4 384.9,577.3M384.9,577.3 385.2,577.3M384.9,577.3 384.1,577.3 381.1,578.7 381.5,579.7 383.7,581.6 382.5,582.6 382.6,584.2 381.3,584.0 378.6,584.2 377.2,584.2M383.8,586.2 385.3,586.4 387.6,585.6 388.2,584.4 389.0,583.2 388.6,581.8 385.5,581.2 383.7,581.6M385.2,577.3 386.8,578.1 388.3,578.7 391.4,580.3 393.3,580.8 397.3,581.0 399.2,578.1 398.3,576.1M388.6,581.8 390.2,581.0 391.4,580.3M391.8,570.7 396.3,570.7 397.5,571.7M396.3,570.7 395.9,569.4 393.7,569.0M393.3,567.5 396.1,567.1 399.1,567.1 401.5,568.2M397.7,564.1 400.0,564.3 402.2,564.8M402.3,561.1 402.0,562.9 402.2,564.8 403.4,566.7 403.6,567.5M401.8,559.1 404.2,556.5 405.9,554.8 403.3,552.8 402.4,550.1 400.8,547.7 401.7,546.3 399.4,544.9 399.7,544.0 401.8,542.7M388.7,543.9 390.0,543.5 392.8,544.5 395.5,544.0 395.6,542.5 398.1,542.2 399.8,543.9 399.7,544.0M389.0,583.2 391.7,583.6 394.3,582.2 396.8,582.4 397.3,581.0M396.8,582.4 398.0,583.4 395.8,586.6 394.4,587.0 392.1,587.4 389.2,587.2 388.0,586.2 387.6,585.6M398.0,583.4 401.4,583.8 404.0,582.8 407.0,586.2 407.2,588.2 409.7,588.6M404.0,582.8 407.0,583.0 409.6,585.6 409.9,586.4 407.2,588.2M394.4,587.0 396.6,589.2 398.7,590.8M405.1,595.8 404.8,597.6M395.2,599.7 396.6,597.6 399.8,596.6M383.8,588.2 386.5,588.2 388.0,586.2M387.4,588.8 389.3,588.8 392.6,589.4 393.6,592.0 392.2,594.2M387.4,588.8 388.2,591.2 390.7,593.2 392.2,594.2M393.8,595.4 395.5,594.6 395.7,597.2 396.6,597.6M392.6,589.4 392.9,587.4M395.5,594.6 398.5,593.6M410.3,575.2 413.8,574.8 416.9,577.3 418.0,578.7 421.3,579.5 424.5,580.1 424.9,583.2 422.8,585.0M427.0,592.4 430.3,592.8 433.5,594.0 436.3,594.2 438.2,595.6 440.1,596.6 441.4,595.4M430.1,596.2 433.6,597.0 435.9,596.6 438.2,595.6M433.6,597.0 434.3,599.0 435.7,599.8M435.9,596.6 438.0,598.6 439.4,601.4M432.9,604.9 437.1,604.9M428.1,612.6 428.7,615.2 425.5,616.4 427.4,618.4 426.6,619.5 424.4,621.1 422.4,620.7M428.7,615.2 431.2,615.6 434.3,617.2 439.2,621.1 442.4,621.3 443.9,619.5 444.7,619.5M442.4,621.3 444.1,622.5 445.8,622.5M420.7,616.8 422.2,620.5M422.4,620.5 422.9,616.4 422.8,614.0 423.0,614.0M421.9,613.1 423.1,612.6M437.7,647.0 438.5,645.0 440.8,645.0 445.3,645.8 446.9,643.4 453.8,641.8 459.0,639.7 459.9,635.7 458.9,634.3 454.3,633.9 452.3,631.2M453.8,641.8 456.2,646.6M458.9,634.3 459.7,631.6 460.0,629.8 460.5,629.6M450.8,630.2 451.7,630.6M439.3,586.0 436.2,583.2 435.6,580.8 437.6,579.3 440.2,576.0 444.6,576.7 447.3,577.9 451.7,577.3 455.0,577.7 456.9,576.7 454.9,573.4 455.7,571.5 459.8,570.5 464.5,569.2 469.1,571.1 473.3,571.9 477.8,570.9 480.8,573.4 485.8,577.3 490.4,577.3 495.6,580.1 498.8,580.8M499.6,580.8 504.6,577.9 510.0,579.3 514.2,578.3 512.9,575.4 519.3,576.5 522.1,578.7 528.7,579.3 535.7,580.5 539.4,578.9 542.9,579.5M454.0,596.6 452.1,589.2 455.8,588.2 460.6,590.6 462.6,592.2 467.5,592.2 470.0,595.2 472.2,596.8 475.0,598.0 476.9,596.2 478.1,594.8 482.0,594.2 483.1,592.8 487.4,593.4 493.3,594.8M478.1,594.8 478.0,597.2 481.6,598.2 484.2,600.2M476.1,605.1 475.5,601.6 477.0,599.2 479.8,600.2 484.2,600.2M477.0,599.2 478.0,597.2M481.5,632.4 485.3,630.6 483.8,626.5 485.2,623.9 488.0,620.5 490.0,617.4 489.2,614.0 490.7,614.4 487.5,610.3 493.4,608.3M501.5,619.0 500.6,621.9 506.7,624.7 509.9,626.1 515.4,626.8 514.6,623.7M516.5,624.5 516.8,625.9 522.0,625.7 521.6,624.1M538.4,639.1 539.4,640.7 540.8,640.7 540.8,644.6 542.5,643.8 544.6,643.0 547.4,644.8 547.9,647.2 549.8,650.9 549.1,651.3M541.6,634.7 543.3,637.7 546.1,638.7 545.5,640.7 547.6,642.4 551.2,646.8 553.0,649.5 553.2,650.7M584.7,699.4 585.5,699.4 585.5,698.8" fill="none" stroke="#2a0a11" stroke-width="0.9" stroke-linejoin="round"/>
</svg>
<svg width="786" height="1046" viewBox="0 0 786 1046" style="left:0;top:0">
<defs><linearGradient id="gl" x1="0.1" y1="0.9" x2="0.9" y2="0.1"><stop offset="0" stop-color="#0b3560"/><stop offset="0.5" stop-color="#1f78b8"/><stop offset="1" stop-color="#55c0ee"/></linearGradient>
<clipPath id="gc"><circle cx="568.7" cy="981.3" r="16.4"/></clipPath></defs>
<circle cx="451.35" cy="78.3" r="18.05" fill="none" stroke="#0c3157" stroke-width="4.50"/>
<path d="M445.75,58.79Q448.55,57.15 451.35,52.90Q454.15,57.15 456.95,58.79ZM470.86,72.70Q472.50,75.50 476.75,78.30Q472.50,81.10 470.86,83.90ZM456.95,97.81Q454.15,99.45 451.35,103.70Q448.55,99.45 445.75,97.81ZM431.84,83.90Q430.20,81.10 425.95,78.30Q430.20,75.50 431.84,72.70Z" fill="#0c3157"/>
<path d="M469.85,56.30L446.15,73.40L456.85,83.50Z" fill="#9da2a6"/>
<path d="M433.35,100.40L446.15,73.40L456.85,83.50Z" fill="#29abe2"/>
<circle cx="451.35" cy="78.3" r="4" fill="#fff"/><circle cx="451.35" cy="78.3" r="2.2" fill="#0c3157"/>
<circle cx="568.7" cy="981.3" r="16.4" fill="url(#gl)"/>
<g clip-path="url(#gc)" fill="none" stroke="#fff" stroke-width="1.7" transform="rotate(-22 568.7 981.3)">
<ellipse cx="568.7" cy="981.3" rx="5.5" ry="15.2"/>
<ellipse cx="568.7" cy="981.3" rx="11.5" ry="15.2"/>
<path d="M553.5,981.3H584M555.5,973.5Q568.7,970 582,973.5M555.5,989.2Q568.7,992.6 582,989.2"/>
</g>
<circle cx="568.7" cy="981.3" r="15.6" fill="none" stroke="url(#gl)" stroke-width="1.8"/>
<path d="M637.4,969.5V993.3" stroke="#7d92aa" stroke-width="1" fill="none"/>
<g stroke="#333" stroke-width="0.6">
<rect x="140.6" y="822.9" width="37" height="7.7" fill="#eeeeee"/>
<rect x="188.2" y="822.9" width="91.8" height="7.7" fill="#808080"/>
<rect x="280" y="822.9" width="90.7" height="7.7" fill="#f6ee9c"/>
<rect x="370.7" y="822.9" width="90.8" height="7.7" fill="#f4b283"/>
<rect x="461.5" y="822.9" width="90.6" height="7.7" fill="#d5736b"/>
<rect x="552.1" y="822.9" width="92" height="7.7" fill="#91253a"/>
<path d="M159.1,819.8V822.9M234.6,808.8V822.9M325,819.8V822.9M416.5,808.8V822.9M507.6,819.8V822.9M598,808.8V822.9" fill="none" stroke="#111" stroke-width="0.9"/>
</g>
</svg>
<div class="t" style='left:19.70px;top:39.17px;font:normal 400 26.5px/32px "Liberation Sans", Arial, sans-serif;color:#0c2f56;letter-spacing:2.220px;-webkit-text-stroke:0.4px #fff;'>FRESH IDEAS</div>
<div class="t" style='left:112.40px;top:73.82px;font:normal 400 26.5px/32px "Liberation Sans", Arial, sans-serif;color:#0c2f56;letter-spacing:3.375px;-webkit-text-stroke:0.4px #fff;'>ABOUT</div>
<div class="t" style='left:29.20px;top:108.62px;font:normal 400 26.5px/32px "Liberation Sans", Arial, sans-serif;color:#0c2f56;letter-spacing:2.170px;-webkit-text-stroke:0.4px #fff;'>BUSINESS IN</div>
<div class="t" style='left:231.80px;top:108.62px;font:normal 400 26.5px/32px "Liberation Sans", Arial, sans-serif;color:#29abe2;letter-spacing:2.547px;-webkit-text-stroke:0.4px #fff;'>EMERGING MARKETS</div>
<div class="t" style='left:230.22px;top:20.88px;font:normal 700 80px/96px "Liberation Sans", Arial, sans-serif;color:#29abe2;transform:scaleX(1.1164);transform-origin:0 0;-webkit-text-stroke:1.6px #29abe2;'>EM</div>
<div class="t" style='left:369.54px;top:21.48px;font:normal 400 80px/96px "Liberation Sans", Arial, sans-serif;color:#0c2f56;transform:scaleX(0.9900);transform-origin:0 0;-webkit-text-stroke:0.6px #0c2f56;'>C</div>
<div class="t" style='left:481.30px;top:20.36px;font:normal 400 81.5px/98px "Liberation Sans", Arial, sans-serif;color:#0c2f56;letter-spacing:2.850px;-webkit-text-stroke:0.6px #0c2f56;'>mpass</div>
<div class="t" style='left:21.50px;top:166.36px;font:normal 700 14px/17px "DejaVu Sans Condensed", "DejaVu Sans", "Liberation Sans", sans-serif;color:#ffffff;letter-spacing:0.143px;'>www.ifc.org/thoughtleadership</div>
<div class="t" style='left:577.70px;top:164.26px;font:normal 400 16.3px/20px "DejaVu Sans", "Liberation Sans", sans-serif;color:#eefaff;letter-spacing:0.074px;-webkit-text-stroke:0.4px #eefaff;'>NOTE 95 &nbsp;•&nbsp; DEC 2020</div>
<div class="t" style='left:21.50px;top:205.05px;font:normal 400 30.2px/36px "DejaVu Sans", "Liberation Sans", sans-serif;color:#0c2f56;letter-spacing:0.459px;'>How the Tourism Sector in Emerging Markets</div>
<div class="t" style='left:21.50px;top:243.25px;font:normal 400 30.2px/36px "DejaVu Sans", "Liberation Sans", sans-serif;color:#0c2f56;letter-spacing:0.173px;'>is Recovering from COVID-19</div>
<div class="t" style='left:21.95px;top:287.06px;font:normal 700 14px/17px "DejaVu Sans Condensed", "DejaVu Sans", "Liberation Sans", sans-serif;color:#0b2747;letter-spacing:0.024px;-webkit-text-stroke:0.3px #0b2747;'>By Nisachol Mekharat and Nouhoum Traore</div>
<div class="t" style='left:22.62px;top:316.01px;font:normal 400 14.4px/17px "Liberation Sans", Arial, sans-serif;color:#2aa3dc;letter-spacing:-0.007px;-webkit-text-stroke:0.25px #2aa3dc;'>Tourism is an important sector that accounts for 10 percent of global gross domestic product and one in every</div>
<div class="t" style='left:21.62px;top:333.39px;font:normal 400 14.4px/17px "Liberation Sans", Arial, sans-serif;color:#2aa3dc;letter-spacing:0.002px;-webkit-text-stroke:0.25px #2aa3dc;'>10 jobs. As a result of COVID-19-related travel restrictions, the United Nations World Tourism Organization</div>
<div class="t" style='left:21.62px;top:350.77px;font:normal 400 14.4px/17px "Liberation Sans", Arial, sans-serif;color:#2aa3dc;letter-spacing:0.060px;-webkit-text-stroke:0.25px #2aa3dc;'>(UNWTO) has estimated that international tourist arrivals in 2020 will drop between 58 and 78 percent, which</div>
<div class="t" style='left:21.62px;top:368.15px;font:normal 400 14.4px/17px "Liberation Sans", Arial, sans-serif;color:#2aa3dc;letter-spacing:-0.028px;-webkit-text-stroke:0.25px #2aa3dc;'>puts 100 to 120 million direct tourism jobs at risk. The effects of COVID-19 are felt throughout the extensive</div>
<div class="t" style='left:22.62px;top:385.53px;font:normal 400 14.4px/17px "Liberation Sans", Arial, sans-serif;color:#2aa3dc;letter-spacing:0.083px;-webkit-text-stroke:0.25px #2aa3dc;'>tourism value chain, including airlines, hotels, restaurants, tour operators, food suppliers, farmers, retailers, and</div>
<div class="t" style='left:21.62px;top:402.91px;font:normal 400 14.4px/17px "Liberation Sans", Arial, sans-serif;color:#2aa3dc;letter-spacing:0.005px;-webkit-text-stroke:0.25px #2aa3dc;'>a wide range of other small and medium enterprises.</div>
<div class="t" style='left:22.62px;top:425.51px;font:normal 400 14.4px/17px "Liberation Sans", Arial, sans-serif;color:#2aa3dc;letter-spacing:0.035px;-webkit-text-stroke:0.25px #2aa3dc;'>Although all tourist destinations strongly feel the impact from the pandemic-related crisis, not all have the</div>
<div class="t" style='left:21.62px;top:442.76px;font:normal 400 14.4px/17px "Liberation Sans", Arial, sans-serif;color:#2aa3dc;letter-spacing:-0.014px;-webkit-text-stroke:0.25px #2aa3dc;'>same vulnerabilities or capacity to recover. This note explores the factors in specific tourism destinations that</div>
<div class="t" style='left:21.62px;top:460.01px;font:normal 400 14.4px/17px "Liberation Sans", Arial, sans-serif;color:#2aa3dc;letter-spacing:0.057px;-webkit-text-stroke:0.25px #2aa3dc;'>contribute to pandemic-related vulnerability, as well as the factors that support the resilience of the tourism</div>
<div class="t" style='left:21.62px;top:477.26px;font:normal 400 14.4px/17px "Liberation Sans", Arial, sans-serif;color:#2aa3dc;letter-spacing:-0.076px;-webkit-text-stroke:0.25px #2aa3dc;'>sector. Examining all these factors together provides a snapshot of the countries as well as the subsectors that are</div>
<div class="t" style='left:21.62px;top:494.51px;font:normal 400 14.4px/17px "Liberation Sans", Arial, sans-serif;color:#2aa3dc;letter-spacing:-0.208px;-webkit-text-stroke:0.25px #2aa3dc;'>most likely to recover first, as well as those that will require greater support to weather and recover from the crisis.</div>
<div class="t" style='left:139.60px;top:809.47px;font:normal 400 10.2px/12px "Liberation Sans", Arial, sans-serif;color:#111;letter-spacing:0.433px;'>No data</div>
<div class="t" style='left:202.85px;top:798.07px;font:normal 400 10.2px/12px "Liberation Sans", Arial, sans-serif;color:#111;letter-spacing:0.170px;'>No measures</div>
<div class="t" style='left:301.25px;top:809.47px;font:normal 400 10.2px/12px "Liberation Sans", Arial, sans-serif;color:#111;letter-spacing:0.188px;'>Screening</div>
<div class="t" style='left:339.75px;top:798.07px;font:normal 400 10.2px/12px "Liberation Sans", Arial, sans-serif;color:#111;letter-spacing:0.078px;'>Quarantine from high-risk regions</div>
<div class="t" style='left:450.80px;top:809.47px;font:normal 400 10.2px/12px "Liberation Sans", Arial, sans-serif;color:#111;letter-spacing:0.174px;'>Ban on high-risk regions</div>
<div class="t" style='left:552.25px;top:798.07px;font:normal 400 10.2px/12px "Liberation Sans", Arial, sans-serif;color:#111;letter-spacing:0.132px;'>Total border closure</div>
<div class="t" style='left:21.70px;top:851.06px;font:normal 700 10.8px/13px "Liberation Sans", Arial, sans-serif;color:#2aa3dc;letter-spacing:-0.100px;'>FIGURE 1</div>
<div class="t" style='left:76.10px;top:848.11px;font:normal 400 14.4px/17px "Liberation Sans", Arial, sans-serif;color:#0c2f56;letter-spacing:-0.049px;-webkit-text-stroke:0.2px #0c2f56;'>International Travel Controls During the COVID-19 Pandemic as of May 1, 2020</div>
<div class="t" style='left:22.50px;top:870.59px;font:italic 400 11.3px/14px "Liberation Serif", "Times New Roman", serif;color:#222;letter-spacing:0.041px;'>Source: Hale, Thomas, Noam Angrist, Emily Cameron-Blake, Laura Hallas, Beatriz Kira, Saptarshi Majumdar, Anna Petherick, Toby Phillips, Helen Tatlow,</div>
<div class="t" style='left:22.50px;top:882.89px;font:italic 400 11.3px/14px "Liberation Serif", "Times New Roman", serif;color:#222;letter-spacing:0.177px;'>Samuel Webster. 2020. Oxford COVID-19 Government Response Tracker.</div>
<div class="t" style='left:22.70px;top:909.10px;font:normal 700 13px/16px "Liberation Sans", Arial, sans-serif;color:#2aa3dc;letter-spacing:-0.019px;-webkit-text-stroke:0.4px #2aa3dc;'>About the Authors</div>
<div class="t" style='left:21.50px;top:928.68px;font:normal 400 11.3px/14px "Liberation Sans", Arial, sans-serif;color:#222;letter-spacing:-0.066px;'><b>Nisachol Mekhara</b>, Results Measurement Specialist, and <b>Nouhoum Traore</b>, Economist, both at Sector Economics and Development Impact –</div>
<div class="t" style='left:21.50px;top:941.88px;font:normal 400 11.3px/14px "Liberation Sans", Arial, sans-serif;color:#222;letter-spacing:-0.143px;'>Corporate Results, Economics and Private Sector Development, IFC. Their emails are <u>nmekhara@ifc.org</u> and <u>ntraore3@ifc.org</u> respectively.</div>
<div class="t" style='left:378.69px;top:971.69px;font:normal 400 15.6px/19px "Liberation Sans", Arial, sans-serif;color:#0c2f56;transform:scaleX(0.6143);transform-origin:0 0;'>1</div>
<div class="t" style='left:21.80px;top:1004.83px;font:italic 400 9.4px/11px "Liberation Serif", "Times New Roman", serif;color:#222;letter-spacing:-0.002px;'>This publication may be reused for noncommercial purposes if the source is cited as IFC, a member of the World Bank Group.</div>
<div class="t" style='left:591.20px;top:962.49px;font:normal 700 31.5px/38px "Liberation Sans", Arial, sans-serif;color:#0c2f56;transform:scaleX(0.8000);transform-origin:0 0;-webkit-text-stroke:1.8px #0c2f56;'>IFC</div>
<div class="t" style='left:642.70px;top:967.39px;font:normal 700 9px/11px "DejaVu Sans", "Liberation Sans", sans-serif;color:#2aa3dc;letter-spacing:-0.133px;'>International</div>
<div class="t" style='left:642.70px;top:976.09px;font:normal 700 9px/11px "DejaVu Sans", "Liberation Sans", sans-serif;color:#2aa3dc;letter-spacing:-0.156px;'>Finance Corporation</div>
<div class="t" style='left:644.00px;top:987.61px;font:normal 700 6.6px/8px "Liberation Sans", Arial, sans-serif;color:#0c2f56;transform:scaleX(0.8278);transform-origin:0 0;'>WORLD BANK GROUP</div>
<div class="t" style='left:551.00px;top:999.52px;font:italic 400 11.8px/14px "Liberation Serif", "Times New Roman", serif;color:#333;letter-spacing:-0.205px;'>Creating Markets, Creating Opportunities</div>
</body></html>
